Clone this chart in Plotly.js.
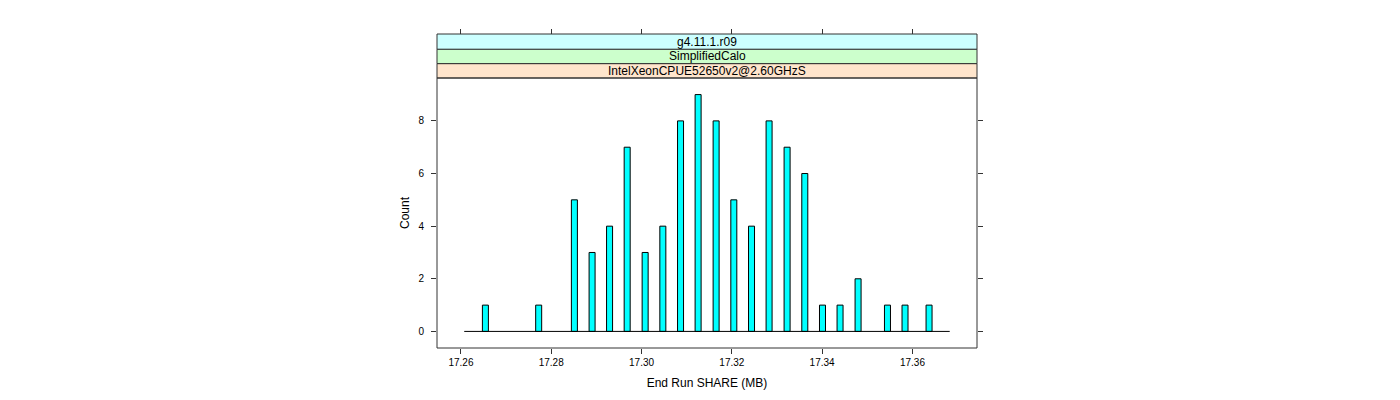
<!DOCTYPE html>
<html>
<head>
<meta charset="utf-8">
<script src="https://cdn.plot.ly/plotly-3.0.1.min.js"></script>
<style>html,body{margin:0;padding:0;background:#fff;}#chart{width:1400px;height:400px;}</style>
</head>
<body>
<div id="chart"></div>
<script>
// Bin centres (MB) and counts
const binCenters = [17.26542, 17.27722, 17.28513, 17.28905, 17.29292, 17.29682, 17.30080, 17.30472,
  17.30864, 17.31253, 17.31652, 17.32044, 17.32436, 17.32825, 17.33224, 17.33616,
  17.34008, 17.34397, 17.34796, 17.35447, 17.35836, 17.36368];
const counts = [1, 1, 5, 3, 4, 7, 3, 4, 8, 9, 8, 5, 4, 8, 7, 6, 1, 1, 2, 1, 1, 1];
// Histogram break range (zero-count bins drawn as the baseline)
const breakRange = [17.26073, 17.36826];
const xTickVals = [17.26, 17.28, 17.30, 17.32, 17.34, 17.36];
const xTickText = ["17.26", "17.28", "17.30", "17.32", "17.34", "17.36"];
const yTickVals = [0, 2, 4, 6, 8];
const stripLabels = ["IntelXeonCPUE52650v2@2.60GHzS", "SimplifiedCalo", "g4.11.1.r09"];
const stripColors = ["#ffe5cc", "#ccffcc", "#ccffff"];

const W = 1400, H = 400;
const mL = 437, mR = 423, mT = 34, mB = 52;
const plotH = H - mT - mB;
const panelTopPx = 78;
const stripPx = 14.4;
const yTop = (H - mB - panelTopPx) / plotH;
const stripH = stripPx / plotH;
const font = "Liberation Sans, Arial, Helvetica, sans-serif";
const lineCol = "#333333";

const shapes = [];
const annotations = [];
for (let i = 0; i < stripLabels.length; i++) {
  const y0 = yTop + i * stripH;
  const y1 = i === stripLabels.length - 1 ? 1 : yTop + (i + 1) * stripH;
  shapes.push({type: "rect", xref: "paper", yref: "paper", x0: 0, x1: 1, y0: y0, y1: y1,
    fillcolor: stripColors[i], line: {color: lineCol, width: 1}, layer: "below"});
  annotations.push({xref: "paper", yref: "paper", x: 0.5, y: (y0 + y1) / 2, text: stripLabels[i],
    showarrow: false, xanchor: "center", yanchor: "middle", font: {family: font, size: 12, color: "#000"}});
}
shapes.push({type: "rect", xref: "paper", yref: "paper", x0: 0, x1: 1, y0: 0, y1: yTop,
  fillcolor: "rgba(0,0,0,0)", line: {color: lineCol, width: 1}});

const xRange = [17.2547, 17.3743];

const data = [
  {type: "scatter", mode: "lines", x: breakRange, y: [0, 0], line: {color: "#000", width: 1},
    hoverinfo: "skip", showlegend: false},
  {type: "bar", x: binCenters, y: counts, width: 0.00133,
    marker: {color: "#00ffff", line: {color: "#000", width: 1}}, showlegend: false},
  {type: "scatter", mode: "lines", x: xRange, y: [null, null], xaxis: "x2", yaxis: "y", showlegend: false, hoverinfo: "skip"}
];

const layout = {
  width: W, height: H,
  margin: {l: mL, r: mR, t: mT, b: mB, pad: 0},
  paper_bgcolor: "#fff", plot_bgcolor: "#fff",
  showlegend: false,
  bargap: 0,
  font: {family: font, size: 12, color: "#000"},
  xaxis: {
    range: xRange, tickvals: xTickVals, ticktext: xTickText,
    ticks: "outside", ticklen: 5, tickcolor: lineCol, tickwidth: 1,
    showgrid: false, zeroline: false, showline: false,
    tickfont: {family: font, size: 10, color: "#000"},
    title: {text: "End Run SHARE (MB)", font: {family: font, size: 12, color: "#000"}, standoff: 11},
    automargin: false
  },
  xaxis2: {
    range: xRange, overlaying: "x", side: "top", anchor: "free", position: 1,
    tickvals: xTickVals, ticks: "outside", ticklen: 5, tickcolor: lineCol, tickwidth: 1,
    showticklabels: false, showgrid: false, zeroline: false, showline: false
  },
  yaxis: {
    domain: [0, yTop], range: [-0.63, 9.63], tickvals: yTickVals,
    ticks: "outside", ticklen: 5, tickcolor: lineCol, tickwidth: 1, mirror: "ticks",
    showgrid: false, zeroline: false, showline: false,
    ticklabelstandoff: 5,
    tickfont: {family: font, size: 10, color: "#000"},
    title: {text: "Count", font: {family: font, size: 12, color: "#000"}, standoff: 6},
    automargin: false
  },
  shapes: shapes,
  annotations: annotations
};

Plotly.newPlot("chart", data, layout, {displayModeBar: false, staticPlot: true});
</script>
</body>
</html>
